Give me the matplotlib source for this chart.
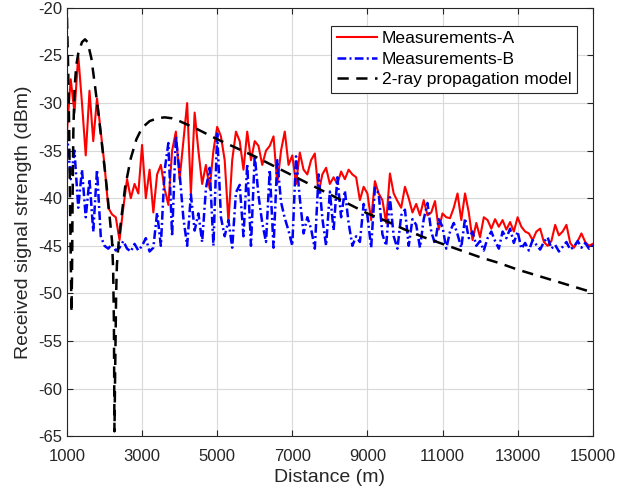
import numpy as np
import matplotlib
matplotlib.use("Agg")
import matplotlib.pyplot as plt

plt.rcParams['font.family'] = ['Liberation Sans', 'DejaVu Sans']
plt.rcParams['axes.unicode_minus'] = False

# Distance grid of the two measurement runs (m)
dist = np.arange(1000, 15001, 100)

# Measurements-A (dBm), one row per 1000 m
meas_a = [
    -33, -27.5, -31, -25, -30, -35.5, -28.7, -34, -29.5, -33,
    -36.5, -41, -41.7, -42, -44.4, -41, -38, -40, -38.5, -39.5,
    -34.4, -40, -37, -41.5, -37.5, -36.5, -39, -40.7, -35, -33,
    -38, -34, -30, -39.5, -31, -35, -38.5, -36.5, -39, -35,
    -32.5, -33.5, -36, -42.5, -36, -33, -34, -37, -33, -36,
    -34, -34.5, -36.5, -35, -34.5, -33.5, -38.5, -35, -33, -36.5,
    -35.5, -38.5, -35.2, -37, -37.5, -36, -35.3, -39.5, -37.5, -36.8,
    -38.5, -37.8, -38.5, -37.2, -38, -37, -37.5, -37.8, -40.2, -38.8,
    -39.5, -42.3, -38.2, -39.5, -40.2, -42.6, -37.4, -39.5, -40.3, -41,
    -38.8, -40, -41.5, -40.6, -41.8, -40.2, -41.8, -41.5, -40.3, -43.3,
    -41.6, -42, -42.1, -41, -39.5, -42.3, -39.5, -41.5, -44.4, -42.6,
    -44.1, -42, -42.3, -43.2, -42.2, -43, -42.3, -43.3, -42.5, -43.5,
    -42, -43, -43.5, -43.7, -44.4, -43.5, -43.2, -44.6, -45, -44.5,
    -42.8, -43.9, -43.5, -42.8, -44.7, -45.2, -44.5, -43.7, -44.6, -45,
    -44.8,
]

# Measurements-B (dBm)
meas_b = [
    -33, -38, -35, -41, -37, -42, -38, -43.5, -37, -44,
    -45, -45.3, -44.8, -45.5, -45.2, -44.5, -45.3, -45.6, -44.8, -45.5,
    -45, -44.2, -45.6, -45.2, -41.5, -45, -37.1, -34.2, -44, -33.5,
    -37.4, -42.1, -45, -39.6, -43.4, -41.6, -44.6, -39, -36.8, -45,
    -33.2, -42, -44, -42.3, -45.2, -39.4, -38.6, -44, -36.4, -45,
    -35.5, -39.7, -42.6, -44.6, -37, -45.2, -36, -40.4, -42.1, -43.4,
    -45, -35.6, -40, -43.7, -42, -43.2, -45.3, -37.5, -42.1, -45,
    -39.3, -43.4, -37.8, -42, -39.2, -42.6, -45, -44, -44.6, -40.6,
    -41.8, -45.2, -38.9, -39.5, -43.8, -45, -39.9, -44, -45.3, -41.8,
    -41.2, -45, -42.2, -42.8, -45.2, -42.2, -40.5, -43.5, -44.8, -42.2,
    -43, -45.3, -43.5, -42.6, -43.8, -45.2, -42.1, -44.2, -43.5, -45,
    -44.5, -45.5, -44.2, -43.5, -44.5, -45.3, -43.5, -44.2, -43.2, -44.7,
    -43.5, -45.3, -44.7, -45.5, -44.4, -44.9, -45.4, -44.6, -44.1, -45.3,
    -44.9, -45.6, -45.1, -44.6, -45.4, -45.1, -44.5, -45.2, -44.7, -45.3,
    -44.9,
]

# 2-ray propagation model
model_dist = [1000, 1030, 1060, 1080, 1100, 1120, 1135, 1150, 1170, 1200,
              1250, 1300, 1400, 1480, 1550, 1650, 1750, 1850, 1950, 2050,
              2150, 2200, 2230, 2250, 2265, 2290, 2310, 2330, 2380, 2450,
              2550, 2700, 2850, 3000, 3200, 3400, 3600, 3800, 4000, 4500,
              5000, 5500, 6000, 6500, 7000, 7500, 8000, 8500, 9000, 9500,
              10000, 10500, 11000, 11500, 12000, 12500, 13000, 13500, 14000,
              14500, 15000]
model_rss = [-21, -26, -33, -40, -46, -52, -48, -40, -33, -28.5,
             -26, -24.8, -23.6, -23.3, -23.6, -25.3, -28.3, -31.5, -35, -38.5,
             -42.5, -44.5, -47.5, -53, -64.5, -56, -50, -47, -44.5, -42,
             -38.8, -35.8, -33.8, -32.6, -31.9, -31.6, -31.5, -31.6, -31.9, -32.8,
             -33.8, -34.7, -35.6, -36.6, -37.6, -38.6, -39.6, -40.6, -41.6, -42.4,
             -43.3, -44.1, -44.8, -45.5, -46.2, -46.8, -47.5, -48.1, -48.7,
             -49.3, -49.9]

fig = plt.figure(figsize=(6.2, 4.95), dpi=100)
ax = fig.add_axes([0.108, 0.119, 0.848, 0.865])

ax.plot(dist, meas_a, color='red', lw=1.5, label='Measurements-A')
ax.plot(dist, meas_b, color='blue', lw=1.8, ls=(0, (3.5, 1.3, 0.8, 1.3)),
        label='Measurements-B')
ax.plot(model_dist, model_rss, color='black', lw=1.8, ls=(0, (4.5, 3)),
        label='2-ray propagation model')

ax.set_xlim(1000, 15000)
ax.set_ylim(-65, -20)
ax.set_xticks(np.arange(1000, 15001, 2000))
ax.set_yticks(np.arange(-65, -19, 5))
ax.tick_params(direction='in', top=True, right=True, labelsize=12,
               colors='#262626', length=4)
ax.tick_params(axis='x', pad=9)
for s in ax.spines.values():
    s.set_color('#262626')
    s.set_linewidth(0.8)
ax.grid(True, color='#d9d9d9', lw=0.8)

ax.set_xlabel('Distance (m)', fontsize=14, color='#262626', labelpad=4)
ax.set_ylabel('Received signal strength (dBm)', fontsize=14, color='#262626')

leg = ax.legend(loc='upper right', bbox_to_anchor=(0.970, 0.958),
                borderaxespad=0, fontsize=12.6, fancybox=False,
                handlelength=2.3, borderpad=0.3, labelspacing=0.3,
                handletextpad=0.3, framealpha=1)
leg.get_frame().set_edgecolor('#262626')
leg.get_frame().set_linewidth(0.8)

fig.savefig('out.png', dpi=100)
